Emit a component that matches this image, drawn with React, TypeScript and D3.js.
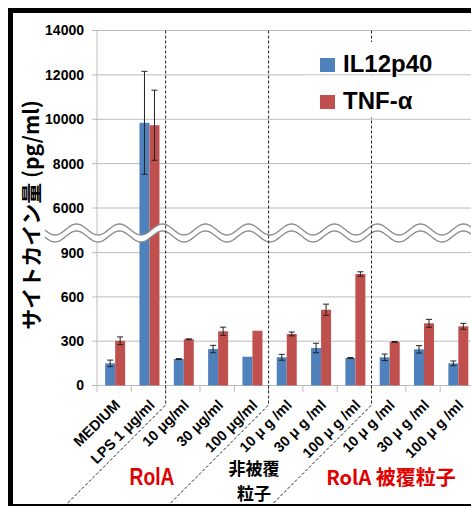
import React from "react";
import * as d3 from "d3";

// 試料ごとのサイトカイン量 (pg/ml)
const categories = [
  "MEDIUM", "LPS 1 μg/ml",
  "10 μg/ml", "30 μg/ml", "100 μg/ml",
  "10 μ g /ml", "30 μ g /ml", "100 μ g /ml",
  "10 μ g /ml", "30 μ g /ml", "100 μ g /ml",
];
const seriesNames = ["IL12p40", "TNF-α"];
const il12 = [150, 9840, 179, 247, 195, 191, 254, 186, 191, 245, 150];
const il12Err = [22, 2320, 3, 25, 0, 20, 32, 3, 22, 25, 16];
const tnf = [303, 9730, 313, 367, 371, 349, 513, 755, 295, 421, 401];
const tnfErr = [26, 1580, 3, 28, 0, 13, 38, 15, 3, 27, 20];
const lowTicks = [0, 300, 600, 900];
const highTicks = [6000, 8000, 10000, 12000, 14000];
const groupBreaks = [2, 5, 8]; // index of first category in a new group

const W = 471, H = 506;
const colors = ["#4f81bd", "#c0504d"];
const latin = "'Liberation Sans', Arial, sans-serif";
const cjk = "'Noto Sans CJK JP', sans-serif";

export default function App() {
  // labels repeat, so the band scale works on indexes
  const idx = d3.range(categories.length);
  const x = d3.scaleBand<number>().domain(idx).range([97, 474.5]);
  const xs = d3.scaleBand().domain(seriesNames).range([0, 20]);
  const barOff = (x.bandwidth() - 20) / 2 + 1;
  const yLow = d3.scaleLinear().domain([0, 900]).range([385.5, 252.6]);
  const yHigh = d3.scaleLinear().domain([6000, 14000]).range([208, 30.5]);
  const y = (v: number) => (v <= 1100 ? yLow(v) : yHigh(v));

  const series = [
    { name: seriesNames[0], vals: il12, errs: il12Err, color: colors[0] },
    { name: seriesNames[1], vals: tnf, errs: tnfErr, color: colors[1] },
  ];

  // broken-axis wave
  const period = 43, amp = 5.5, crest = 119.5;
  const wx = d3.range(45, W + 2, 1);
  const wave = (c: number) => wx.map((px) => [px, c - amp * Math.cos((2 * Math.PI * (px - crest)) / period)] as [number, number]);
  const top = wave(229.5), bot = wave(236.5);
  const line = d3.line();
  const band = line([...top, ...bot.slice().reverse()]) + "Z";

  const gridColor = "#bcbcbc";

  return (
    <svg width={W} height={H} style={{ position: "absolute", left: 0, top: 0, background: "#fff" }}>
      {/* grid */}
      {[...lowTicks.map((t) => yLow(t)), ...highTicks.map((t) => yHigh(t))].map((py, i) => (
        <line key={"g" + i} x1={92} x2={W} y1={py} y2={py} stroke={gridColor} strokeWidth={1} />
      ))}
      <line x1={97} x2={97} y1={30.5} y2={385.5} stroke={gridColor} />
      {d3.range(categories.length + 1).map((i) => {
        const px = 97 + i * x.step();
        return <line key={"t" + i} x1={px} x2={px} y1={385.5} y2={392} stroke={gridColor} />;
      })}
      {/* y tick labels */}
      {lowTicks.map((t) => (
        <text key={"l" + t} x={84} y={yLow(t)} dy="0.35em" textAnchor="end" fontFamily={latin} fontWeight="bold" fontSize={14}>{t}</text>
      ))}
      {highTicks.map((t) => (
        <text key={"h" + t} x={84} y={yHigh(t)} dy="0.35em" textAnchor="end" fontFamily={latin} fontWeight="bold" fontSize={14}>{t}</text>
      ))}
      {/* bars */}
      {series.map((s) =>
        idx.map((i) => {
          const bx = (x(i) as number) + barOff + (xs(s.name) as number);
          return (
            <rect key={s.name + i} x={bx} y={y(s.vals[i])} width={xs.bandwidth()} height={385.5 - y(s.vals[i])} fill={s.color} />
          );
        })
      )}
      {/* error bars */}
      {series.map((s) =>
        idx.map((i) => {
          if (!s.errs[i]) return null;
          const cx = (x(i) as number) + barOff + (xs(s.name) as number) + xs.bandwidth() / 2;
          const y1 = y(s.vals[i] + s.errs[i]), y2 = y(s.vals[i] - s.errs[i]);
          return (
            <g key={"e" + s.name + i} stroke="#222" strokeWidth={1}>
              <line x1={cx} x2={cx} y1={y1} y2={y2} />
              <line x1={cx - 3} x2={cx + 3} y1={y1} y2={y1} />
              <line x1={cx - 3} x2={cx + 3} y1={y2} y2={y2} />
            </g>
          );
        })
      )}
      {/* axis break */}
      <path d={band} fill="#fff" />
      <path d={line(top) as string} fill="none" stroke="#8a8a8a" strokeWidth={1.3} />
      <path d={line(bot) as string} fill="none" stroke="#8a8a8a" strokeWidth={1.3} />
      {/* group separators */}
      {groupBreaks.map((gi) => {
        const px = x(gi) as number;
        return (
          <path key={"d" + gi} d={`M${px},30.5V405L${px - 98},503`} fill="none" stroke="#222" strokeWidth={1} strokeDasharray="3,2" />
        );
      })}
      {/* legend */}
      <rect x={305} y={42} width={160} height={32} fill="#fff" />
      <rect x={305} y={75.5} width={160} height={42} fill="#fff" />
      {series.map((s, i) => (
        <g key={"lg" + i} transform={`translate(320,${58 + i * 37})`}>
          <rect width={15} height={14} fill={s.color} />
          <text x={23} y={14} fontFamily={latin} fontWeight="bold" fontSize={24}>{s.name}</text>
        </g>
      ))}
      {/* x labels */}
      {idx.map((i) => {
        const px = (x(i) as number) + x.bandwidth() / 2 + 7;
        return (
          <text key={"x" + i} transform={`translate(${px},406) rotate(-45)`} textAnchor="end" fontFamily={latin} fontWeight="bold" fontSize={14.5}>{categories[i]}</text>
        );
      })}
      {/* group labels */}
      <text transform="translate(152,485) scale(0.8,1)" textAnchor="middle" fill="#e00000" fontFamily={latin} fontWeight="bold" fontSize={24}>RolA</text>
      <text x={254} y={475} textAnchor="middle" fontFamily={cjk} fontWeight="bold" fontSize={17}>非被覆</text>
      <text x={254} y={500} textAnchor="middle" fontFamily={cjk} fontWeight="bold" fontSize={17}>粒子</text>
      <text x={391} y={485} textAnchor="middle" fill="#e00000" fontFamily={cjk} fontWeight="bold" fontSize={20}>RolA 被覆粒子</text>
      {/* y title */}
      <text transform="translate(30,215) rotate(-90)" textAnchor="middle" dominantBaseline="central" fontFamily={cjk} fontWeight="bold" fontSize={21}>サイトカイン量 (pg/ml)</text>
      {/* frame */}
      <rect x={10.5} y={10.5} width={463} height={496} fill="none" stroke="#000" strokeWidth={5} />
    </svg>
  );
}
